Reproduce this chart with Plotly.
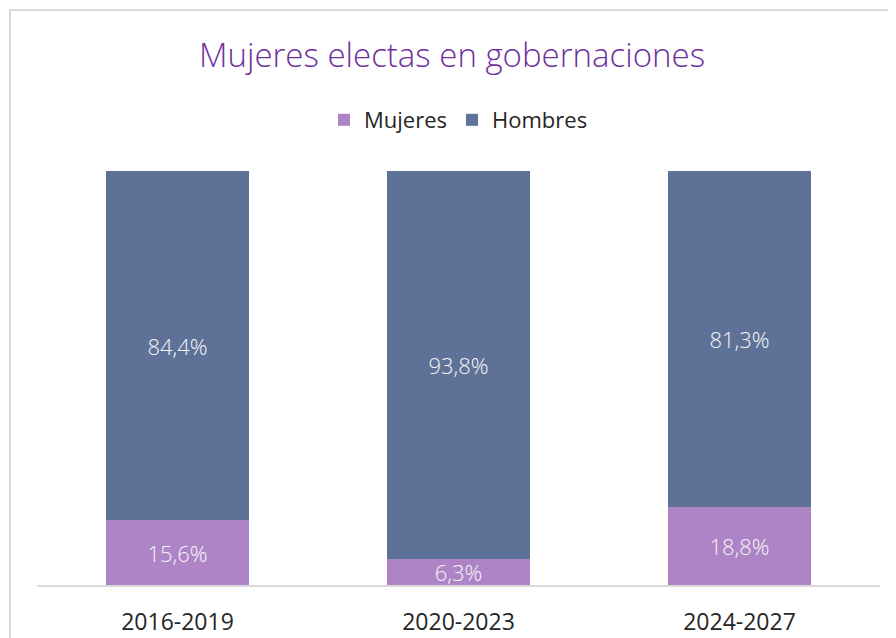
import plotly.graph_objects as go

categories = ["2016-2019", "2020-2023", "2024-2027"]
mujeres = [15.6, 6.3, 18.8]
hombres = [84.4, 93.8, 81.3]

def fmt(vals):
    return [f"{v:.1f}%".replace(".", ",") for v in vals]

FONT = "Open Sans"
OFF = 8  # page body margin
W, H = 896 - OFF, 638 - OFF
L, R, T, B = 37 - OFF, 16, 171 - OFF, 53
pw, ph = W - L - R, H - T - B

fig = go.Figure()
for name, vals, col in [("Mujeres", mujeres, "#AE84C6"), ("Hombres", hombres, "#5E7298")]:
    fig.add_trace(go.Bar(
        name=name, x=categories, y=vals, text=fmt(vals),
        marker=dict(color=col, line=dict(width=0)),
        textposition="inside", insidetextanchor="middle", constraintext="none",
        textangle=0,
        textfont=dict(family=FONT, size=22, color="#F5F5F5", weight=300),
    ))

def px_x(p):
    return (p - OFF - L) / pw

def px_y(p):
    return (H - B - (p - OFF)) / ph

fig.update_layout(
    width=W, height=H,
    margin=dict(l=L, r=R, t=T, b=B, autoexpand=False),
    barmode="stack", bargap=0.49,
    paper_bgcolor="white", plot_bgcolor="white",
    title=dict(text="Mujeres electas en gobernaciones", x=0.5, xanchor="center",
               y=1 - (55 - OFF) / H, yanchor="middle",
               font=dict(family=FONT, size=33, color="#7030A0", weight=300)),
    legend=dict(orientation="h", x=0.5, xanchor="center", y=px_y(120), yanchor="middle",
                font=dict(family=FONT, size=22, color="#262626"),
                itemwidth=30, traceorder="normal"),
    showlegend=True,
)
fig.update_xaxes(showline=True, linecolor="#D9D9D9", linewidth=1.5, showgrid=False,
                 ticks="", ticklabelstandoff=16, automargin=False,
                 tickfont=dict(family=FONT, size=23, color="#262626"))
fig.update_yaxes(range=[0, 100], visible=False, showgrid=False, automargin=False)

fig.add_shape(type="rect", xref="paper", yref="paper",
              x0=px_x(10), x1=px_x(960), y0=px_y(700), y1=px_y(10),
              line=dict(color="#D9D9D9", width=2), fillcolor="rgba(0,0,0,0)", layer="below")

fig.write_html("out.html")
